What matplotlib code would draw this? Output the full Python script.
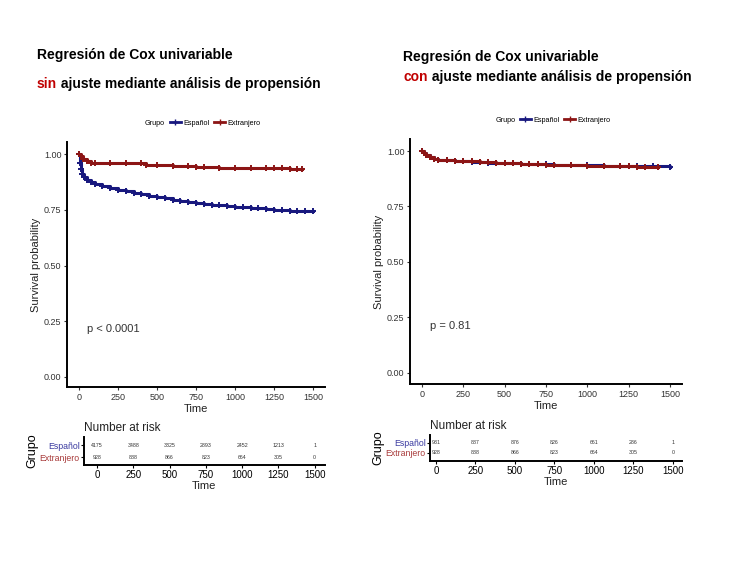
import matplotlib
matplotlib.use('Agg')
import matplotlib.pyplot as plt
from matplotlib.lines import Line2D

plt.rcParams['font.family'] = ['Liberation Sans', 'DejaVu Sans']

# --- data ---
# unadjusted (left)
t_esp_sin = [0, 5, 10, 20, 30, 50, 75, 100, 150, 200, 250, 300, 350, 400, 450, 500, 550, 600,
             650, 700, 750, 800, 850, 900, 950, 1000, 1050, 1100, 1150, 1200, 1250, 1300,
             1350, 1400, 1450, 1500]
s_esp_sin = [1.0, 0.96, 0.935, 0.91, 0.898, 0.885, 0.876, 0.868, 0.857, 0.848, 0.84, 0.833,
             0.826, 0.82, 0.814, 0.808, 0.801, 0.795, 0.789, 0.784, 0.779, 0.776, 0.773, 0.77,
             0.767, 0.765, 0.762, 0.76, 0.757, 0.754, 0.751, 0.748, 0.746, 0.745, 0.745, 0.745]
t_ext_sin = [0, 10, 25, 50, 80, 100, 200, 300, 400, 430, 500, 600, 700, 750, 800, 900, 1000,
             1100, 1200, 1250, 1300, 1350, 1400, 1430]
s_ext_sin = [1.0, 0.99, 0.98, 0.97, 0.962, 0.96, 0.96, 0.959, 0.958, 0.952, 0.95, 0.948,
             0.945, 0.943, 0.942, 0.94, 0.938, 0.937, 0.937, 0.937, 0.936, 0.935, 0.933, 0.933]

# propensity adjusted (right)
t_esp_con = [0, 10, 25, 50, 75, 100, 150, 200, 250, 300, 350, 400, 450, 500, 550, 600, 650,
             700, 750, 800, 900, 1000, 1100, 1200, 1250, 1300, 1400, 1500]
s_esp_con = [1.0, 0.99, 0.98, 0.972, 0.965, 0.961, 0.958, 0.956, 0.954, 0.951, 0.949, 0.947,
             0.946, 0.945, 0.944, 0.943, 0.942, 0.941, 0.94, 0.938, 0.936, 0.935, 0.933,
             0.932, 0.932, 0.931, 0.931, 0.93]
t_ext_con = [0, 10, 25, 50, 75, 100, 150, 200, 250, 300, 350, 400, 450, 500, 550, 600, 650,
             700, 750, 800, 900, 1000, 1100, 1200, 1250, 1300, 1350, 1430]
s_ext_con = [1.0, 0.99, 0.98, 0.972, 0.965, 0.961, 0.958, 0.957, 0.955, 0.953, 0.951, 0.949,
             0.947, 0.946, 0.944, 0.942, 0.941, 0.94, 0.938, 0.937, 0.935, 0.933, 0.932,
             0.931, 0.931, 0.93, 0.93, 0.93]

risk_times = [0, 250, 500, 750, 1000, 1250, 1500]
risk_esp_sin = [4175, 3488, 3325, 2893, 2452, 1213, 1]
risk_ext_sin = [928, 888, 866, 823, 664, 305, 0]
risk_esp_con = [931, 887, 876, 826, 661, 286, 1]
risk_ext_con = [928, 888, 866, 823, 664, 305, 0]

groups = ['Español', 'Extranjero']
col_esp = '#18187e'
col_ext = '#8c1515'
lab_esp = '#3a3aa0'
lab_ext = '#a83a3a'

fig = plt.figure(figsize=(7.5, 5.63), dpi=100)


def km_panel(rect, xlim, ylim, t1, s1, t2, s2, ptxt):
    ax = fig.add_axes(rect)
    ax.plot(t1, s1, drawstyle='steps-post', color=col_esp, lw=2.2,
            marker='+', ms=4, mew=1.4)
    ax.plot(t2, s2, drawstyle='steps-post', color=col_ext, lw=2.2,
            marker='+', ms=4, mew=1.4)
    ax.set_xlim(*xlim)
    ax.set_ylim(*ylim)
    ax.set_xticks([0, 250, 500, 750, 1000, 1250, 1500])
    ax.set_yticks([0, 0.25, 0.5, 0.75, 1.0])
    ax.set_yticklabels(['0.00', '0.25', '0.50', '0.75', '1.00'])
    for s in ['top', 'right']:
        ax.spines[s].set_visible(False)
    for s in ['left', 'bottom']:
        ax.spines[s].set_linewidth(1.4)
    ax.tick_params(labelsize=6.5, length=2.5, width=0.8, colors='#333333', pad=1.5)
    ax.set_xlabel('Time', fontsize=8, labelpad=1.5, color='#222222')
    ax.set_ylabel('Survival probability', fontsize=8, labelpad=2, color='#222222')
    ax.text(50, 0.2, ptxt, fontsize=8, color='#333333')
    handles = [Line2D([], [], ls='none'),
               Line2D([], [], color=col_esp, lw=2, marker='+', ms=4),
               Line2D([], [], color=col_ext, lw=2, marker='+', ms=4)]
    ax.legend(handles, ['Grupo'] + groups, ncol=3, frameon=False, fontsize=5.2,
              loc='lower center', bbox_to_anchor=(0.5, 1.05), handlelength=1.6,
              handletextpad=0.3, columnspacing=0.6, borderaxespad=0)
    return ax


def risk_panel(rect, xlim, ylim, r1, r2):
    ax = fig.add_axes(rect)
    for x, a, b in zip(risk_times, r1, r2):
        ax.text(x, 1, str(a), fontsize=3.8, ha='center', va='center', color='#333333')
        ax.text(x, 0, str(b), fontsize=3.8, ha='center', va='center', color='#333333')
    ax.set_xlim(*xlim)
    ax.set_ylim(*ylim)
    ax.set_xticks(risk_times)
    ax.set_yticks([1, 0])
    ax.set_yticklabels(groups)
    for lbl, c in zip(ax.get_yticklabels(), [lab_esp, lab_ext]):
        lbl.set_color(c)
    for s in ['top', 'right']:
        ax.spines[s].set_visible(False)
    for s in ['left', 'bottom']:
        ax.spines[s].set_linewidth(1.4)
    ax.tick_params(axis='x', labelsize=7, length=2.5, width=0.8, pad=1)
    ax.tick_params(axis='y', labelsize=6.3, length=2, width=0.8, pad=1)
    ax.set_xlabel('Time', fontsize=8, labelpad=1, color='#222222')
    ax.set_ylabel('Grupo', fontsize=9, labelpad=1)
    ax.text(0.0, 1.12, 'Number at risk', transform=ax.transAxes, fontsize=8.5,
            ha='left', va='bottom', color='#222222')
    return ax


km_panel([0.0893, 0.3126, 0.344, 0.435], (-77, 1577), (-0.045, 1.054),
         t_esp_sin, s_esp_sin, t_ext_sin, s_ext_sin, 'p < 0.0001')
risk_panel([0.112, 0.174, 0.321, 0.0497], (-89, 1569), (-0.67, 1.67),
           risk_esp_sin, risk_ext_sin)

km_panel([0.5467, 0.318, 0.3627, 0.435], (-72, 1573), (-0.05, 1.054),
         t_esp_con, s_esp_con, t_ext_con, s_ext_con, 'p = 0.81')
risk_panel([0.5733, 0.1812, 0.336, 0.0462], (-38, 1557), (-0.8, 1.8),
           risk_esp_con, risk_ext_con)

# titles
tfont = dict(fontsize=10, fontweight='bold')
fig.text(37 / 750, 1 - 55 / 563, 'Regresión de Cox univariable', va='center', **tfont)
t1 = fig.text(37 / 750, 1 - 84 / 563, 'sin', va='center', color='#c00000', **tfont)
plt.annotate(' ajuste mediante análisis de propensión', xy=(1, 0), xycoords=t1,
             va='bottom', annotation_clip=False, **tfont)

fig.text(403 / 750, 1 - 57 / 563, 'Regresión de Cox univariable', va='center', **tfont)
t2 = fig.text(403 / 750, 1 - 77 / 563, 'con', va='center', color='#c00000', **tfont)
plt.annotate(' ajuste mediante análisis de propensión', xy=(1, 0), xycoords=t2,
             va='bottom', annotation_clip=False, **tfont)

fig.savefig('out.png', dpi=100)
